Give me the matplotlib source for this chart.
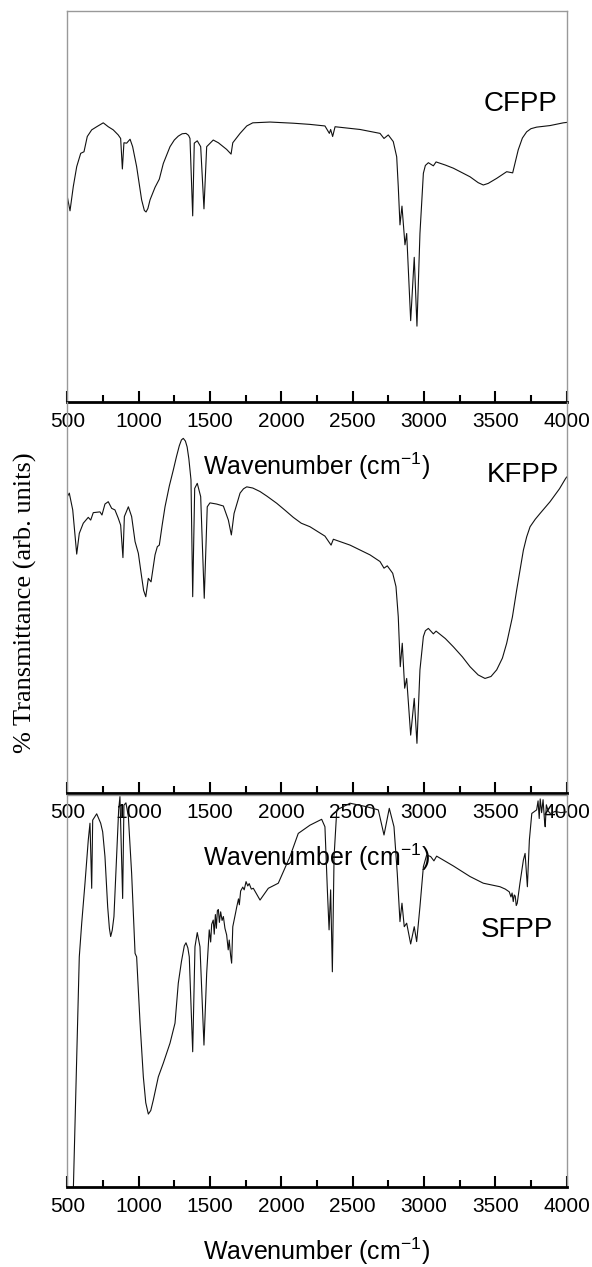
import matplotlib
matplotlib.use('Agg')
import matplotlib.pyplot as plt
from matplotlib.ticker import MultipleLocator

plt.rcParams['font.family'] = ['Liberation Sans', 'DejaVu Sans']
plt.rcParams['mathtext.fontset'] = 'custom'
plt.rcParams['mathtext.rm'] = 'Liberation Sans'

# CFPP spectrum (wavenumber, transmittance in arb. units)
cfpp_wn = [500, 519, 542, 566, 594, 617, 640, 671, 706, 752, 787, 822, 857, 874, 886, 897,
           916, 940, 958, 986, 1021, 1040, 1052, 1065, 1080, 1115, 1145, 1173, 1220, 1250,
           1278, 1305, 1332, 1350, 1360, 1379, 1390, 1411, 1435, 1458, 1477, 1523, 1559,
           1617, 1648, 1660, 1711, 1758, 1800, 1921, 2085, 2201, 2306, 2337, 2346, 2360,
           2377, 2552, 2692, 2720, 2750, 2785, 2809, 2820, 2832, 2846, 2867, 2879, 2907,
           2932, 2951, 2972, 2996, 3010, 3031, 3066, 3085, 3150, 3206, 3270, 3323, 3380,
           3416, 3450, 3510, 3580, 3622, 3661, 3690, 3720, 3750, 3790, 3884, 3977, 4000]
cfpp_t = [52.5, 48.9, 55.1, 60.2, 63.6, 64.0, 67.9, 69.6, 70.4, 71.4, 70.4, 69.6, 68.3, 67.4,
          59.6, 66.3, 66.2, 67.2, 65.3, 60.2, 51.7, 49.0, 48.6, 49.5, 51.7, 54.9, 57.0, 61.0,
          65.3, 67.0, 68.0, 68.6, 68.7, 68.2, 67.4, 47.6, 66.2, 66.8, 65.3, 49.4, 65.3, 67.0,
          66.3, 64.6, 63.4, 66.3, 68.7, 70.6, 71.4, 71.6, 71.3, 71.0, 70.6, 68.7, 69.7, 67.9,
          70.4, 69.7, 68.7, 67.4, 68.3, 66.6, 62.7, 55.1, 45.3, 50.1, 40.2, 43.1, 20.8, 37.0,
          19.4, 43.1, 58.5, 60.5, 61.2, 60.4, 61.4, 60.6, 59.8, 58.6, 57.6, 56.1, 55.5, 55.9,
          57.2, 58.9, 58.6, 64.5, 67.5, 69.1, 69.9, 70.3, 70.7, 71.4, 71.5]

# KFPP spectrum
kfpp_wn = [500, 514, 538, 566, 584, 612, 647, 664, 682, 729, 743, 764, 787, 811, 834, 857,
           874, 890, 900, 928, 951, 975, 998, 1021, 1035, 1050, 1068, 1087, 1115, 1131, 1145,
           1165, 1185, 1215, 1243, 1265, 1285, 1300, 1313, 1328, 1340, 1352, 1367, 1379,
           1393, 1411, 1435, 1460, 1481, 1500, 1547, 1594, 1629, 1650, 1669, 1711, 1735,
           1758, 1800, 1851, 1900, 1968, 2030, 2084, 2140, 2201, 2306, 2349, 2365, 2482,
           2622, 2692, 2720, 2743, 2781, 2804, 2820, 2834, 2848, 2865, 2879, 2907, 2932,
           2951, 2972, 2996, 3010, 3031, 3066, 3085, 3150, 3206, 3270, 3323, 3380, 3428,
           3470, 3510, 3550, 3580, 3620, 3650, 3697, 3720, 3744, 3780, 3814, 3884, 3950,
           3989, 4000]
kfpp_t = [75.8, 76.7, 72.4, 61.1, 66.4, 69.0, 70.5, 69.8, 71.7, 71.9, 71.1, 73.9, 74.5, 72.8,
          72.4, 70.3, 68.5, 60.2, 70.7, 73.2, 70.7, 64.3, 61.3, 55.3, 51.8, 50.2, 54.9, 54.0,
          60.9, 63.0, 63.4, 68.5, 73.2, 78.5, 82.6, 86.0, 88.8, 90.3, 90.7, 90.0, 88.5, 85.5,
          80.1, 50.2, 77.9, 79.2, 75.8, 49.8, 73.2, 74.2, 73.9, 73.4, 69.8, 66.0, 71.5, 76.7,
          77.8, 78.3, 78.0, 77.1, 75.9, 74.1, 72.2, 70.5, 69.0, 68.1, 65.7, 63.4, 64.9, 63.4,
          60.9, 59.2, 57.5, 58.1, 56.2, 52.8, 45.1, 32.3, 38.3, 26.8, 29.3, 14.8, 24.2, 12.7,
          31.5, 40.0, 41.5, 42.1, 40.7, 41.4, 39.5, 37.4, 34.8, 32.3, 30.2, 29.3, 29.8, 31.5,
          34.5, 38.3, 45.0, 51.9, 62.1, 65.5, 68.1, 70.0, 71.5, 74.5, 77.8, 80.2, 80.8]

# SFPP spectrum
sfpp_wn = [500, 543, 566, 584, 601, 624, 647, 659, 671, 678, 706, 734, 748, 764, 783, 795,
           804, 815, 827, 846, 860, 869, 888, 897, 911, 928, 951, 975, 986, 1010, 1033,
           1050, 1068, 1085, 1103, 1138, 1173, 1220, 1255, 1278, 1300, 1320, 1332, 1345,
           1355, 1379, 1395, 1411, 1430, 1458, 1477, 1495, 1505, 1512, 1523, 1530, 1538,
           1545, 1552, 1559, 1566, 1575, 1585, 1594, 1605, 1617, 1628, 1635, 1645, 1652,
           1660, 1672, 1680, 1688, 1700, 1706, 1715, 1730, 1740, 1753, 1765, 1775, 1790,
           1804, 1851, 1909, 1979, 2061, 2119, 2201, 2283, 2306, 2323, 2335, 2346, 2358,
           2370, 2389, 2482, 2599, 2680, 2720, 2757, 2790, 2813, 2832, 2846, 2862, 2879,
           2907, 2932, 2949, 2972, 2996, 3019, 3047, 3070, 3089, 3206, 3323, 3416, 3533,
           3570, 3598, 3610, 3618, 3626, 3633, 3640, 3647, 3654, 3660, 3673, 3697, 3709,
           3725, 3739, 3756, 3790, 3800, 3808, 3815, 3825, 3835, 3845, 3850, 3858, 3870,
           3884, 3920, 3960, 4000]
sfpp_t = [-20.0, 0.3, 33.2, 58.7, 67.3, 77.5, 88.5, 92.8, 76.2, 93.6, 95.2, 92.8, 90.6, 84.3,
          71.5, 66.0, 63.9, 65.5, 69.0, 84.3, 96.2, 99.6, 73.6, 97.4, 98.0, 94.5, 80.0, 59.6,
          58.7, 41.8, 28.1, 21.5, 18.6, 19.5, 22.2, 28.1, 31.6, 36.7, 41.8, 52.0, 57.5, 61.5,
          62.3, 61.0, 58.7, 34.5, 61.3, 64.9, 61.3, 36.2, 54.5, 65.6, 62.5, 67.0, 68.1, 64.5,
          69.5, 66.0, 70.5, 70.8, 67.5, 70.2, 68.0, 69.0, 66.0, 64.3, 60.5, 63.0, 59.0, 57.1,
          66.4, 68.5, 70.0, 71.5, 73.5, 72.0, 75.5, 76.5, 75.8, 77.9, 76.8, 77.4, 76.0, 76.2,
          73.2, 76.2, 77.5, 84.3, 90.2, 92.3, 93.8, 91.9, 75.8, 65.6, 75.8, 54.9, 84.3, 96.2,
          97.9, 97.0, 96.2, 89.8, 96.6, 91.9, 80.0, 67.7, 72.4, 66.4, 67.3, 62.0, 66.4, 62.6,
          71.5, 81.7, 84.7, 84.3, 83.2, 84.4, 81.9, 79.2, 77.5, 76.6, 76.0, 75.3, 74.0, 75.0,
          72.8, 74.5, 74.2, 71.8, 72.4, 74.0, 77.5, 83.4, 85.1, 76.6, 88.5, 95.3, 96.2, 98.5,
          94.0, 99.0, 95.5, 98.8, 93.5, 91.9, 97.5, 96.0, 95.3, 95.8, 95.5, 95.7]

names = ['CFPP', 'KFPP', 'SFPP']
spectra = [(cfpp_wn, cfpp_t), (kfpp_wn, kfpp_t), (sfpp_wn, sfpp_t)]
name_pos = [(0.981, 0.744), (0.985, 0.795), (0.973, 0.638)]

fig = plt.figure(figsize=(5.92, 12.67), dpi=100)
W, H = 592.0, 1267.0
left, right = 67.3, 566.6
# (top, bottom) in pixels for each panel
rows = [(11, 402), (402, 793), (795, 1187)]

for i, (name, (wn, t)) in enumerate(zip(names, spectra)):
    top, bot = rows[i]
    ax = fig.add_axes([left / W, 1 - bot / H, (right - left) / W, (bot - top) / H])
    ax.set_facecolor('none')
    ax.plot(wn, t, color='#111111', lw=0.8)
    ax.set_xlim(500, 4000)
    ax.set_ylim(0, 100)
    ax.set_yticks([])
    ax.xaxis.set_major_locator(MultipleLocator(500))
    ax.xaxis.set_minor_locator(MultipleLocator(250))
    ax.tick_params(axis='x', which='major', direction='in', length=8, width=1.5,
                   labelsize=15, pad=7, colors='black')
    ax.tick_params(axis='x', which='minor', direction='in', length=5, width=1.5)
    for s in ['left', 'right', 'top']:
        ax.spines[s].set_color('#999999')
        ax.spines[s].set_linewidth(1.0)
    ax.spines['bottom'].set_color('black')
    ax.spines['bottom'].set_linewidth(2.0)
    ax.spines['bottom'].set_zorder(5)
    if i == 1:
        ax.spines['top'].set_visible(False)
    ax.set_xlabel(r'Wavenumber (cm$\mathregular{^{-1}}$)', fontsize=18, labelpad=14)
    ax.text(name_pos[i][0], name_pos[i][1], name, transform=ax.transAxes,
            ha='right', va='baseline', fontsize=20)

fig.text(25 / W, 1 - 603 / H, '% Transmittance (arb. units)', rotation=90,
         ha='center', va='center', fontsize=19, family=['Liberation Serif', 'DejaVu Serif'])

fig.savefig('out.png', dpi=100)
